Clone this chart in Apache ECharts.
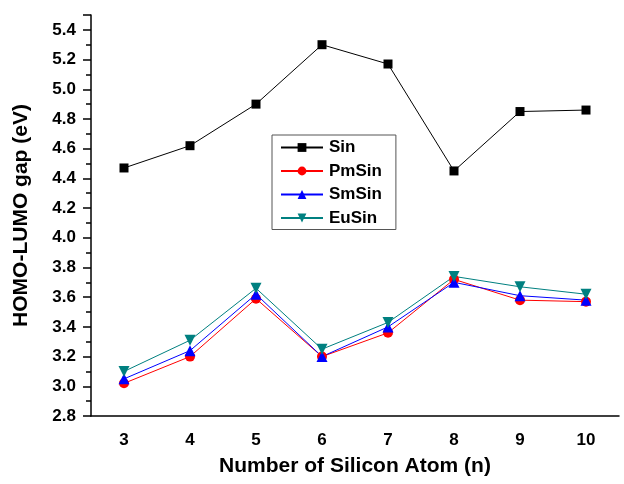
<!DOCTYPE html>
<html>
<head>
<meta charset="utf-8">
<title>HOMO-LUMO gap</title>
<script src="https://cdn.jsdelivr.net/npm/echarts@6/dist/echarts.min.js"></script>
<style>
	html,body{margin:0;padding:0;background:#fff;}
	#chart{width:624px;height:484px;}
</style>
</head>
<body>
<div id="chart"></div>
<script type="text/javascript">
	// number of silicon atoms
	var nAtoms = ['3','4','5','6','7','8','9','10'];
	// gap values (eV)
	var sinData   = [4.47, 4.62, 4.90, 5.30, 5.17, 4.45, 4.85, 4.86];
	var pmSinData = [3.02, 3.20, 3.59, 3.20, 3.36, 3.72, 3.58, 3.57];
	var smSinData = [3.05, 3.24, 3.62, 3.20, 3.40, 3.70, 3.61, 3.58];
	var euSinData = [3.10, 3.31, 3.66, 3.25, 3.43, 3.74, 3.67, 3.62];

	var font = 'Liberation Sans, Arial, sans-serif';
	var chart = echarts.init(document.getElementById('chart'));

	function mkSeries(name, data, color, symbol, size, rotate){
		return {
			name:name,
			type:'line',
			xAxisIndex:0,
			data:data,
			symbol:symbol,
			symbolSize:size,
			symbolRotate:rotate || 0,
			showAllSymbol:true,
			lineStyle:{color:color,width:1},
			itemStyle:{color:color,borderWidth:0},
			emphasis:{disabled:true},
			animation:false
		};
	}

	var option = {
		backgroundColor:'#fff',
		animation:false,
		grid:{left:91,right:5,top:15,bottom:68,containLabel:false},
		legend:{
			orient:'vertical',
			left:272,
			top:135,
			width:128,
			padding:[4,14,3,8],
			itemWidth:42,
			itemHeight:11,
			itemGap:6.5,
			borderColor:'#555',
			borderWidth:1,
			textStyle:{fontFamily:font,fontWeight:'bold',fontSize:17,color:'#000',padding:[0,0,0,1]},
			data:['Sin','PmSin','SmSin','EuSin']
		},
		xAxis:[
			{
				type:'category',
				data:nAtoms,
				boundaryGap:true,
				position:'bottom',
				name:'Number of Silicon Atom (n)',
				nameLocation:'middle',
				nameGap:40,
				nameTextStyle:{fontFamily:font,fontWeight:'bold',fontSize:21,color:'#000'},
				axisLine:{lineStyle:{color:'#000',width:1.5}},
				axisTick:{alignWithLabel:true,length:8,inside:false,lineStyle:{color:'#000',width:1.5}},
				axisLabel:{fontFamily:font,fontWeight:'bold',fontSize:17,color:'#000',margin:16},
				splitLine:{show:false}
			},
			{
				type:'category',
				data:nAtoms,
				boundaryGap:true,
				position:'bottom',
				axisLine:{show:false},
				axisTick:{length:5,inside:false,lineStyle:{color:'#000',width:1.5}},
				axisLabel:{show:false},
				splitLine:{show:false}
			}
		],
		yAxis:{
			type:'value',
			min:2.8,
			max:5.5,
			interval:0.2,
			name:'HOMO-LUMO gap (eV)',
			nameLocation:'middle',
			nameGap:59,
			nameTextStyle:{fontFamily:font,fontWeight:'bold',fontSize:21,color:'#000'},
			axisLine:{show:true,lineStyle:{color:'#000',width:1.5}},
			axisTick:{show:true,length:8,inside:false,lineStyle:{color:'#000',width:1.5}},
			minorTick:{show:true,splitNumber:2,length:5,lineStyle:{color:'#000',width:1.5}},
			axisLabel:{
				fontFamily:font,fontWeight:'bold',fontSize:17,color:'#000',margin:15,
				formatter:function(v){
					if(v > 5.45) return '';
					return v.toFixed(1);
				}
			},
			splitLine:{show:false}
		},
		series:[
			mkSeries('Sin', sinData, '#000000', 'rect', 9),
			mkSeries('PmSin', pmSinData, '#ff0000', 'circle', 10),
			mkSeries('SmSin', smSinData, '#0000ff', 'triangle', 11),
			mkSeries('EuSin', euSinData, '#008080', 'triangle', 11, 180)
		]
	};
	chart.setOption(option);
</script>
</body>
</html>
